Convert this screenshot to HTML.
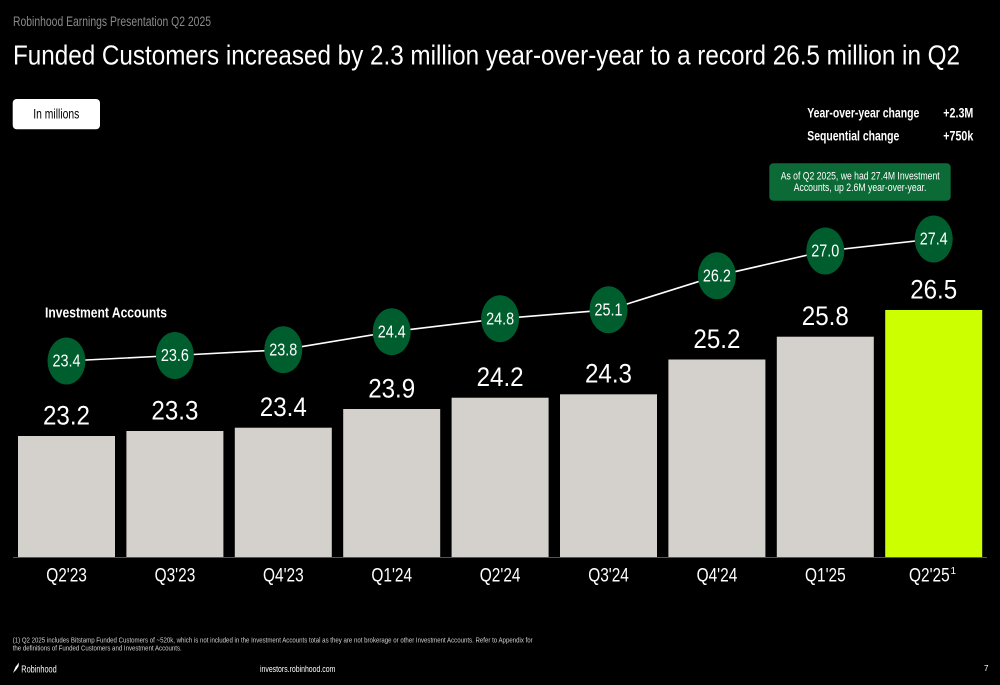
<!DOCTYPE html>
<html>
<head>
<meta charset="utf-8">
<style>
  html,body{margin:0;padding:0;background:#000;}
  svg{display:block;}
  text{font-family:"Liberation Sans",Arial,sans-serif;}
</style>
</head>
<body>
<svg width="1000" height="685" viewBox="0 0 1000 685" xmlns="http://www.w3.org/2000/svg">
  <rect x="0" y="0" width="1000" height="685" fill="#000"/>

  <!-- Header -->
  <text x="13" y="26" font-size="13.5" fill="#8a8a8a" textLength="198" lengthAdjust="spacingAndGlyphs">Robinhood Earnings Presentation Q2 2025</text>
  <text x="13" y="64.5" font-size="28" fill="#fff" textLength="947" lengthAdjust="spacingAndGlyphs">Funded Customers increased by 2.3 million year-over-year to a record 26.5 million in Q2</text>

  <!-- In millions button -->
  <rect x="12.7" y="99" width="87.3" height="30.3" rx="4" fill="#fff"/>
  <text x="33.3" y="118.3" font-size="14" fill="#000" textLength="46" lengthAdjust="spacingAndGlyphs">In millions</text>

  <!-- Change stats -->
  <text x="807.3" y="117.7" font-size="13.5" font-weight="bold" fill="#fff" textLength="112" lengthAdjust="spacingAndGlyphs">Year-over-year change</text>
  <text x="943.3" y="117.7" font-size="13.5" font-weight="bold" fill="#fff" textLength="30" lengthAdjust="spacingAndGlyphs">+2.3M</text>
  <text x="807.3" y="140.7" font-size="13.5" font-weight="bold" fill="#fff" textLength="92" lengthAdjust="spacingAndGlyphs">Sequential change</text>
  <text x="943.3" y="140.7" font-size="13.5" font-weight="bold" fill="#fff" textLength="30" lengthAdjust="spacingAndGlyphs">+750k</text>

  <!-- Green note box -->
  <rect x="769.3" y="163.3" width="181.4" height="37.4" rx="4" fill="#0b6a35"/>
  <text x="780.7" y="179.5" font-size="11" fill="#fff" textLength="159" lengthAdjust="spacingAndGlyphs">As of Q2 2025, we had 27.4M Investment</text>
  <text x="793.7" y="191" font-size="11" fill="#fff" textLength="132.7" lengthAdjust="spacingAndGlyphs">Accounts, up 2.6M year-over-year.</text>

  <!-- Investment Accounts label -->
  <text x="45" y="317.3" font-size="14.5" font-weight="bold" fill="#fff" textLength="122" lengthAdjust="spacingAndGlyphs">Investment Accounts</text>

  <!-- Bars -->
  <g fill="#d4d0cb">
    <rect x="18" y="436" width="97" height="121"/>
    <rect x="126.4" y="431" width="97" height="126"/>
    <rect x="234.8" y="427.7" width="97" height="129.3"/>
    <rect x="343.2" y="409" width="97" height="148"/>
    <rect x="451.6" y="397.7" width="97" height="159.3"/>
    <rect x="560" y="394.3" width="97" height="162.7"/>
    <rect x="668.4" y="359.5" width="97" height="197.5"/>
    <rect x="776.8" y="336.7" width="97" height="220.3"/>
  </g>
  <rect x="885.2" y="310" width="97" height="247" fill="#ccff00"/>

  <!-- Axis line -->
  <line x1="13" y1="557.5" x2="987" y2="557.5" stroke="#555" stroke-width="1"/>

  <!-- Bar value labels -->
  <g font-size="27" fill="#fff">
    <text x="43" y="424.3" textLength="47" lengthAdjust="spacingAndGlyphs">23.2</text>
    <text x="151.4" y="419.3" textLength="47" lengthAdjust="spacingAndGlyphs">23.3</text>
    <text x="259.8" y="416" textLength="47" lengthAdjust="spacingAndGlyphs">23.4</text>
    <text x="368.2" y="397.3" textLength="47" lengthAdjust="spacingAndGlyphs">23.9</text>
    <text x="476.6" y="386" textLength="47" lengthAdjust="spacingAndGlyphs">24.2</text>
    <text x="585" y="382.6" textLength="47" lengthAdjust="spacingAndGlyphs">24.3</text>
    <text x="693.4" y="347.8" textLength="47" lengthAdjust="spacingAndGlyphs">25.2</text>
    <text x="801.8" y="325" textLength="47" lengthAdjust="spacingAndGlyphs">25.8</text>
    <text x="910.2" y="298.3" textLength="47" lengthAdjust="spacingAndGlyphs">26.5</text>
  </g>

  <!-- Line -->
  <polyline points="66.5,361 174.9,355.5 283.3,349.7 391.7,331.7 500.1,318.7 608.5,309.8 716.9,275.8 825.3,251 933.7,239" fill="none" stroke="#fff" stroke-width="1.6"/>

  <!-- Circles -->
  <g fill="#005e2e">
    <ellipse cx="66.5" cy="361" rx="19" ry="23.5"/>
    <ellipse cx="174.9" cy="355.5" rx="19" ry="23.5"/>
    <ellipse cx="283.3" cy="349.7" rx="19" ry="23.5"/>
    <ellipse cx="391.7" cy="331.7" rx="19" ry="23.5"/>
    <ellipse cx="500.1" cy="318.7" rx="19" ry="23.5"/>
    <ellipse cx="608.5" cy="309.8" rx="19" ry="23.5"/>
    <ellipse cx="716.9" cy="275.8" rx="19" ry="23.5"/>
    <ellipse cx="825.3" cy="251" rx="19" ry="23.5"/>
    <ellipse cx="933.7" cy="239" rx="19" ry="23.5"/>
  </g>
  <g font-size="17.5" fill="#fff">
    <text x="52.5" y="366.7" textLength="28" lengthAdjust="spacingAndGlyphs">23.4</text>
    <text x="160.9" y="361.2" textLength="28" lengthAdjust="spacingAndGlyphs">23.6</text>
    <text x="269.3" y="355.4" textLength="28" lengthAdjust="spacingAndGlyphs">23.8</text>
    <text x="377.7" y="337.4" textLength="28" lengthAdjust="spacingAndGlyphs">24.4</text>
    <text x="486.1" y="324.4" textLength="28" lengthAdjust="spacingAndGlyphs">24.8</text>
    <text x="594.5" y="315.5" textLength="28" lengthAdjust="spacingAndGlyphs">25.1</text>
    <text x="702.9" y="281.5" textLength="28" lengthAdjust="spacingAndGlyphs">26.2</text>
    <text x="811.3" y="256.7" textLength="28" lengthAdjust="spacingAndGlyphs">27.0</text>
    <text x="919.7" y="244.7" textLength="28" lengthAdjust="spacingAndGlyphs">27.4</text>
  </g>

  <!-- Category labels -->
  <g font-size="19.5" fill="#fff">
    <text x="46.2" y="581.7" textLength="40.7" lengthAdjust="spacingAndGlyphs">Q2'23</text>
    <text x="154.6" y="581.7" textLength="40.7" lengthAdjust="spacingAndGlyphs">Q3'23</text>
    <text x="263" y="581.7" textLength="40.7" lengthAdjust="spacingAndGlyphs">Q4'23</text>
    <text x="371.4" y="581.7" textLength="40.7" lengthAdjust="spacingAndGlyphs">Q1'24</text>
    <text x="479.8" y="581.7" textLength="40.7" lengthAdjust="spacingAndGlyphs">Q2'24</text>
    <text x="588.2" y="581.7" textLength="40.7" lengthAdjust="spacingAndGlyphs">Q3'24</text>
    <text x="696.6" y="581.7" textLength="40.7" lengthAdjust="spacingAndGlyphs">Q4'24</text>
    <text x="805" y="581.7" textLength="40.7" lengthAdjust="spacingAndGlyphs">Q1'25</text>
    <text x="909" y="581.7" textLength="40.7" lengthAdjust="spacingAndGlyphs">Q2'25</text>
  </g>
  <text x="950.5" y="574" font-size="10" fill="#fff">1</text>

  <!-- Footnote -->
  <text x="12.7" y="642.3" font-size="7.2" fill="#d0d0d0" textLength="520" lengthAdjust="spacingAndGlyphs">(1) Q2 2025 includes Bitstamp Funded Customers of ~520k, which is not included in the Investment Accounts total as they are not brokerage or other Investment Accounts. Refer to Appendix for</text>
  <text x="12.7" y="650.7" font-size="7.2" fill="#d0d0d0" textLength="169" lengthAdjust="spacingAndGlyphs">the definitions of Funded Customers and Investment Accounts.</text>

  <!-- Footer -->
  <path d="M13,673 L15.5,667 L19,662.5 L18.5,666.5 L16,670 Z" fill="#fff"/>
  <text x="21.3" y="672.7" font-size="10" fill="#fff" textLength="35.4" lengthAdjust="spacingAndGlyphs">Robinhood</text>
  <text x="260" y="672" font-size="9.5" fill="#fff" textLength="75.3" lengthAdjust="spacingAndGlyphs">investors.robinhood.com</text>
  <text x="984" y="671" font-size="8" fill="#fff">7</text>
</svg>
</body>
</html>
